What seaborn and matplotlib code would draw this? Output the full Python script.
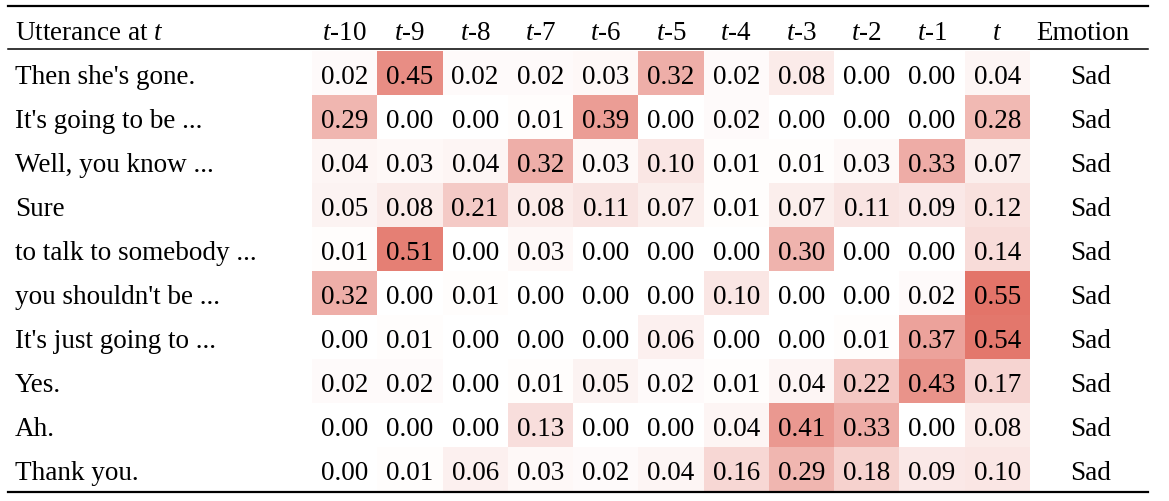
import numpy as np
import pandas as pd
import matplotlib
matplotlib.use("Agg")
import matplotlib.pyplot as plt
import matplotlib.transforms as mtransforms
from matplotlib.colors import LinearSegmentedColormap
import seaborn as sns

utterances = ["Then she's gone.", "It's going to be ...", "Well, you know ...", "Sure",
              "to talk to somebody ...", "you shouldn't be ...", "It's just going to ...",
              "Yes.", "Ah.", "Thank you."]
columns = ["$t$-10", "$t$-9", "$t$-8", "$t$-7", "$t$-6", "$t$-5", "$t$-4", "$t$-3", "$t$-2", "$t$-1", "$t$"]
emotions = ["Sad"] * 10
weights = [
    [0.02, 0.45, 0.02, 0.02, 0.03, 0.32, 0.02, 0.08, 0.00, 0.00, 0.04],
    [0.29, 0.00, 0.00, 0.01, 0.39, 0.00, 0.02, 0.00, 0.00, 0.00, 0.28],
    [0.04, 0.03, 0.04, 0.32, 0.03, 0.10, 0.01, 0.01, 0.03, 0.33, 0.07],
    [0.05, 0.08, 0.21, 0.08, 0.11, 0.07, 0.01, 0.07, 0.11, 0.09, 0.12],
    [0.01, 0.51, 0.00, 0.03, 0.00, 0.00, 0.00, 0.30, 0.00, 0.00, 0.14],
    [0.32, 0.00, 0.01, 0.00, 0.00, 0.00, 0.10, 0.00, 0.00, 0.02, 0.55],
    [0.00, 0.01, 0.00, 0.00, 0.00, 0.06, 0.00, 0.00, 0.01, 0.37, 0.54],
    [0.02, 0.02, 0.00, 0.01, 0.05, 0.02, 0.01, 0.04, 0.22, 0.43, 0.17],
    [0.00, 0.00, 0.00, 0.13, 0.00, 0.00, 0.04, 0.41, 0.33, 0.00, 0.08],
    [0.00, 0.01, 0.06, 0.03, 0.02, 0.04, 0.16, 0.29, 0.18, 0.09, 0.10],
]

plt.rcParams['font.family'] = ['Liberation Serif', 'DejaVu Serif']
plt.rcParams['mathtext.fontset'] = 'custom'
plt.rcParams['mathtext.rm'] = 'Liberation Serif'
plt.rcParams['mathtext.it'] = 'Liberation Serif:italic'

W, H = 1169, 502
fig = plt.figure(figsize=(W / 100, H / 100), dpi=100)
fig.patch.set_facecolor("white")

def fx(px):
    return px / W

def fy(py):
    return 1 - py / H

ax = fig.add_axes([fx(312), fy(492), fx(1030) - fx(312), fy(52) - fy(492)])

df = pd.DataFrame(weights, index=utterances, columns=columns)
cmap = LinearSegmentedColormap.from_list("wr", ["#ffffff", "#e0685c"])
FS = 19.5
sns.heatmap(df, ax=ax, cmap=cmap, vmin=0, vmax=0.6, cbar=False, annot=True, fmt=".2f",
            annot_kws={"color": "black", "fontsize": FS, "va": "center_baseline"}, linewidths=0,
            xticklabels=False, yticklabels=False)

ax.set_xlabel("")
ax.set_ylabel("")
ax.tick_params(length=0)
for s in ax.spines.values():
    s.set_visible(False)

# column headers
blend_top = mtransforms.blended_transform_factory(ax.transData, fig.transFigure)
for j, c in enumerate(columns):
    ax.text(j + 0.5, fy(31), c, transform=blend_top, ha="center", va="center_baseline",
            fontsize=FS, clip_on=False)

# utterance labels and emotions
blend_left = mtransforms.blended_transform_factory(fig.transFigure, ax.transData)
for i, (u, e) in enumerate(zip(utterances, emotions)):
    ax.text(fx(15), i + 0.5, u, transform=blend_left, ha="left", va="center_baseline", fontsize=FS, clip_on=False)
    ax.text(fx(1091), i + 0.5, e, transform=blend_left, ha="center", va="center_baseline", fontsize=FS, clip_on=False)

# header texts
fig.text(fx(15), fy(31), "Utterance at $t$", ha="left", va="center_baseline", fontsize=FS)
fig.text(fx(1083), fy(31), "Emotion", ha="center", va="center_baseline", fontsize=FS)

# rules
fig.add_artist(plt.Line2D([fx(8), fx(1148)], [fy(7), fy(7)], color="black", lw=1.6, transform=fig.transFigure))
fig.add_artist(plt.Line2D([fx(8), fx(1148)], [fy(50), fy(50)], color="black", lw=1.1, transform=fig.transFigure))
fig.add_artist(plt.Line2D([fx(8), fx(1148)], [fy(493), fy(493)], color="black", lw=1.6, transform=fig.transFigure))

fig.savefig("out.png", dpi=100, facecolor="white")
